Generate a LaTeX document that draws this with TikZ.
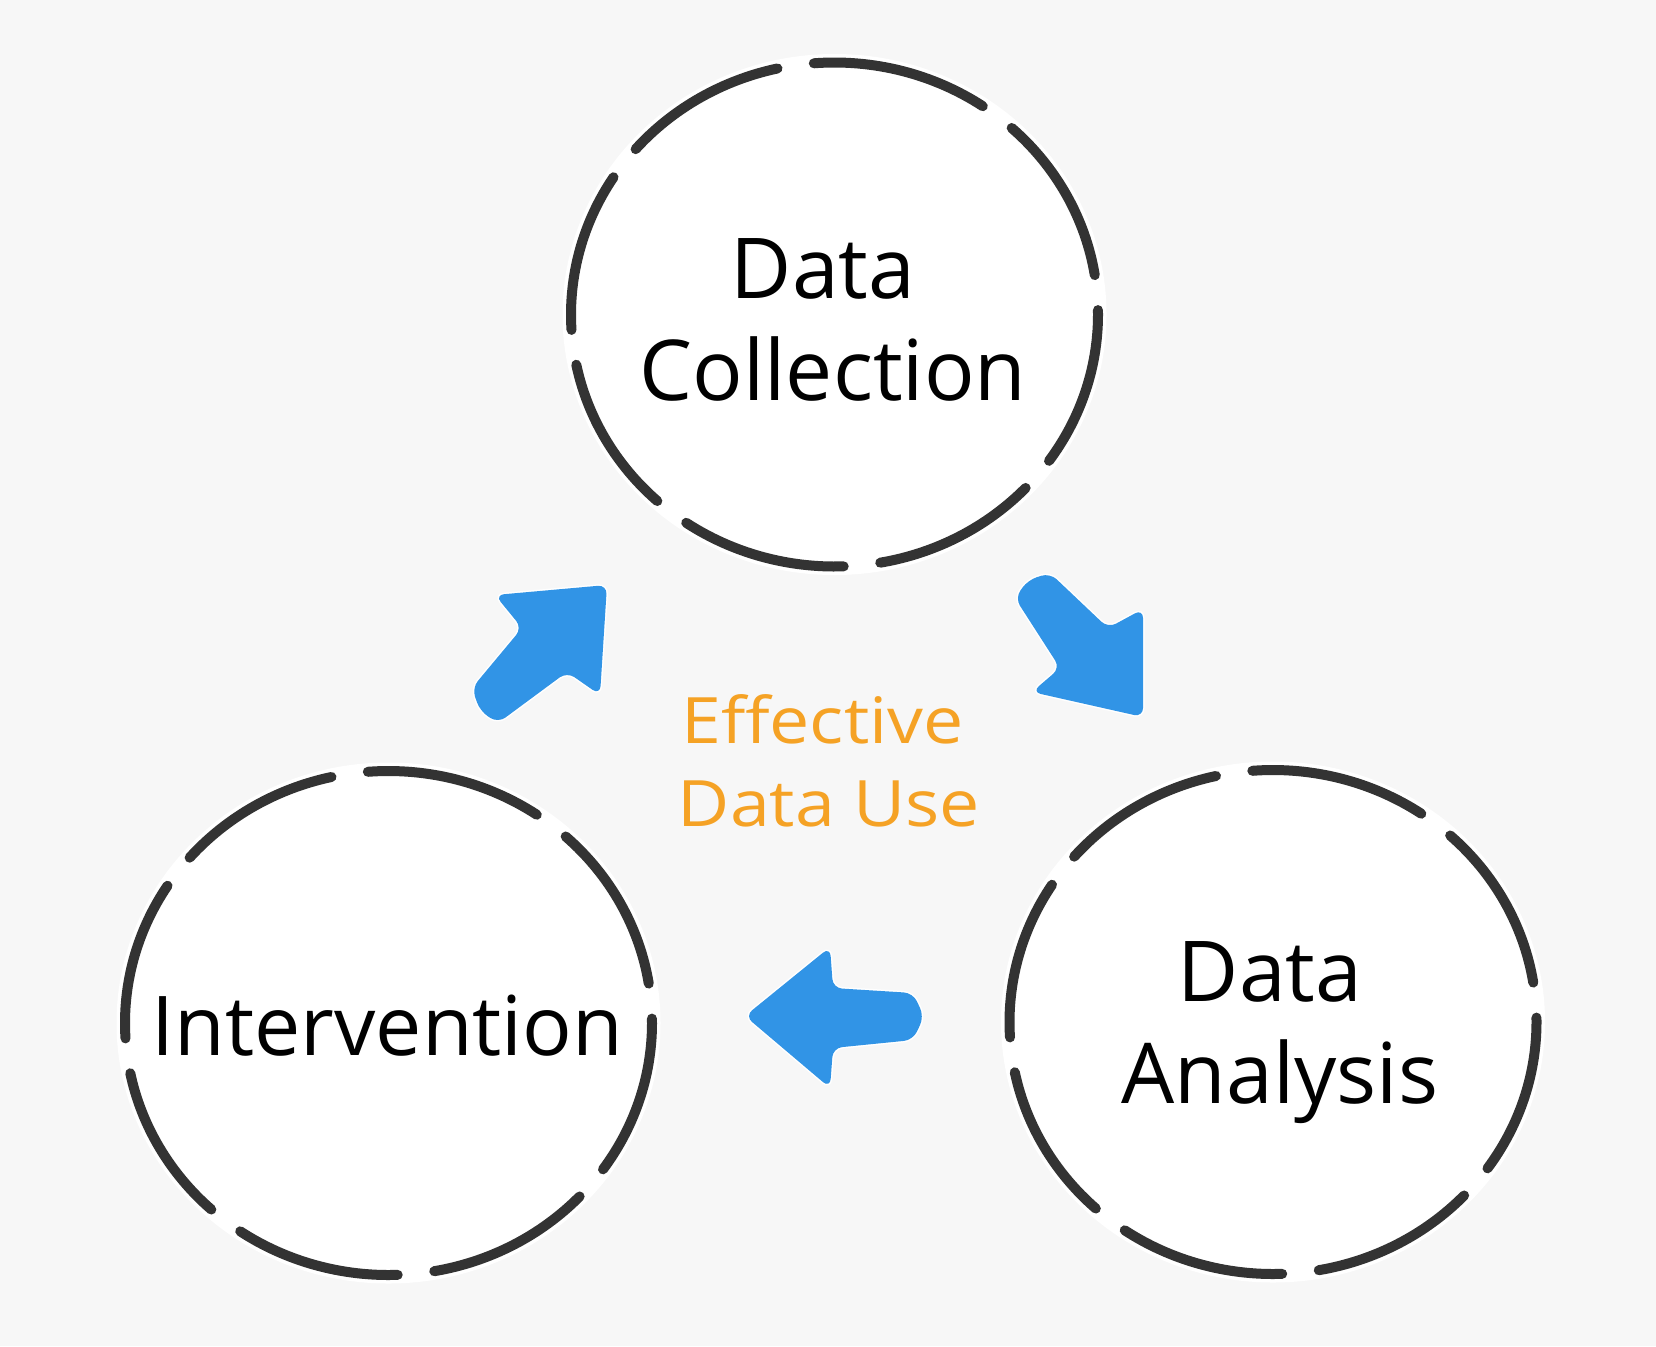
\documentclass[tikz,border=0pt]{standalone}
\usepackage{fontspec}
\setmainfont{Open Sans}
\newfontfamily\orangefont[FakeStretch=1.12]{Open Sans}
\usetikzlibrary{shapes.geometric}
\definecolor{bg}{HTML}{F7F7F7}
\definecolor{ring}{HTML}{333333}
\definecolor{arrowblue}{HTML}{3194E6}
\definecolor{orangetxt}{HTML}{F5A225}
\begin{document}
\begin{tikzpicture}[x=1pt,y=-1pt,
  bubble/.style={ellipse, fill=white, minimum width=544pt, minimum height=521pt, inner sep=0pt},
  ringdash/.style={draw=ring, line width=10pt, line cap=round},
  lbl/.style={anchor=base, inner sep=0pt, font=\fontsize{84}{100}\selectfont, text=black},
  midlbl/.style={anchor=base, inner sep=0pt, font=\orangefont\fontsize{64}{80}\selectfont, text=orangetxt},
  blockarrow/.style={fill=arrowblue, rounded corners=9pt, preaction={draw=white, line width=3pt, rounded corners=9pt}}
]
\useasboundingbox (0,0) rectangle (1656,1346);
\fill[bg] (0,0) rectangle (1656,1346);

% circles
\node[bubble] (dc) at (834.5,314.5) {};
\node[bubble] (iv) at (388.5,1023) {};
\node[bubble] (da) at (1273,1022) {};

\foreach \c in {dc,iv,da}{
  \foreach \g/\h in {5/51.75, 51.75/98.5, 98.5/143, 143/187.5, 187.5/231.75, 231.75/276, 276/320.5, 320.5/365}{
    \pgfmathsetmacro\a{-(\g+4)}
    \pgfmathsetmacro\b{-(\h-4)}
    \draw[ringdash] (\c.center) ++(\a:263.5 and 252) arc[start angle=\a, end angle=\b, x radius=263.5, y radius=252];
  }
}

% labels
\node[lbl] (dct1) at (823,298) {Data};
\node[lbl] (dct2) at (833,400) {Collection};
\node[lbl, font=\fontsize{82.5}{100}\selectfont] (ivt) at (387.5,1055) {Intervention};
\node[lbl] (dat1) at (1270,1001) {Data};
\node[lbl] (dat2) at (1280,1103) {Analysis};

% centre text
\node[midlbl] (eff1) at (822.5,743) {Effective};
\node[midlbl] (eff2) at (829,826) {Data Use};

% arrows
\fill[blockarrow] (603.5,640) -- (600,695) -- (567,672) -- (498,723) -- (480,711) -- (472,688) -- (522,628) -- (495,595) -- (607,585) -- cycle;
\fill[blockarrow] (1143,663) -- (1143,717) -- (1032,692) -- (1060,668) -- (1015,598) -- (1028,580) -- (1050,573) -- (1108,628) -- (1143,609) -- cycle;
\fill[blockarrow] (787.5,981.5) -- (830,947) -- (833,988) -- (913,993) -- (924,1016.5) -- (913,1040) -- (833,1048) -- (830,1088) -- (745,1016) -- cycle;
\end{tikzpicture}
\end{document}
